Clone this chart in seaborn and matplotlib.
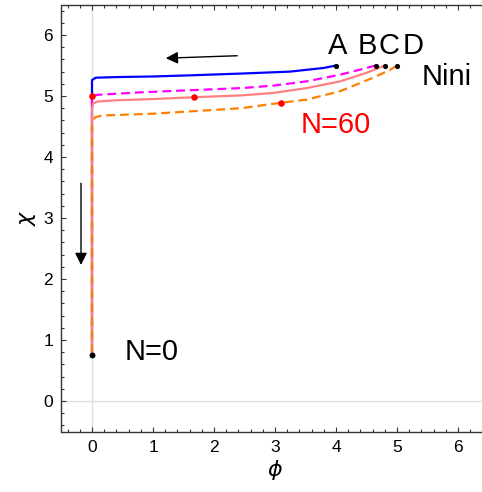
import matplotlib
matplotlib.use("Agg")
import matplotlib.pyplot as plt
from matplotlib.ticker import MultipleLocator
import pandas as pd
import seaborn as sns

# Trajectories in the (phi, chi) plane, from the initial point down to N=0
phi_A = [4.0, 3.8, 3.25, 2.5, 1.65, 1.0, 0.4, 0.06, 0.0, 0.0]
chi_A = [5.5, 5.46, 5.40, 5.37, 5.34, 5.32, 5.31, 5.30, 5.26, 0.75]

phi_B = [4.65, 4.5, 4.07, 3.52, 2.97, 2.46, 1.5, 0.8, 0.1, 0.0, 0.0]
chi_B = [5.5, 5.46, 5.35, 5.24, 5.17, 5.13, 5.09, 5.06, 5.02, 5.0, 0.75]

phi_C = [4.8, 4.5, 4.07, 3.52, 2.97, 2.45, 1.68, 1.0, 0.4, 0.1, 0.02, 0.0, 0.0]
chi_C = [5.5, 5.38, 5.24, 5.13, 5.05, 5.01, 4.98, 4.95, 4.93, 4.91, 4.88, 4.80, 0.75]

phi_D = [5.0, 4.89, 4.61, 4.07, 3.52, 3.1, 2.45, 1.0, 0.16, 0.05, 0.0, 0.0]
chi_D = [5.5, 5.43, 5.30, 5.08, 4.94, 4.89, 4.80, 4.71, 4.68, 4.65, 4.55, 0.75]

# Initial points (Nini) and the points reached at N=60 and N=0
start_labels = ["A", "B", "C", "D"]
start_phi = [4.0, 4.65, 4.8, 5.0]
start_chi = [5.5, 5.5, 5.5, 5.5]
n60_phi = [0.0, 1.68, 3.1]
n60_chi = [5.0, 4.98, 4.89]
end_phi = [0.0]
end_chi = [0.75]

sns.set_style("ticks")
plt.rcParams["font.family"] = ["Liberation Sans", "DejaVu Sans"]
plt.rcParams["mathtext.fontset"] = "dejavusans"
plt.rcParams["text.color"] = "black"
plt.rcParams["axes.labelcolor"] = "black"
plt.rcParams["xtick.color"] = "black"
plt.rcParams["ytick.color"] = "black"

fig = plt.figure(figsize=(4.82, 4.92), dpi=100)
ax = fig.add_axes([61.5 / 482, 60.5 / 492, 427 / 482, 427 / 492])

ax.axhline(0, color="#dddddd", lw=1.0, zorder=0)
ax.axvline(0, color="#dddddd", lw=1.0, zorder=0)

curves = [
    (phi_A, chi_A, "#0000ff", None),
    (phi_B, chi_B, "#ff00ff", (4.0, 2.2)),
    (phi_C, chi_C, "#ff8080", None),
    (phi_D, chi_D, "#ff8000", (4.0, 2.2)),
]
for xs, ys, col, dash in curves:
    df = pd.DataFrame({"phi": xs, "chi": ys})
    sns.lineplot(data=df, x="phi", y="chi", sort=False, estimator=None,
                 color=col, lw=1.6, ax=ax)
    if dash is not None:
        ax.lines[-1].set_dashes(dash)

sns.scatterplot(x=start_phi, y=start_chi, color="black", s=14, linewidth=0,
                ax=ax, zorder=5)
sns.scatterplot(x=end_phi, y=end_chi, color="black", s=18, linewidth=0,
                ax=ax, zorder=5)
sns.scatterplot(x=n60_phi, y=n60_chi, color="#ff0000", s=22, linewidth=0,
                ax=ax, zorder=5)

# Direction of the flow
ax.annotate("", xy=(1.21, 5.62), xytext=(2.38, 5.66),
            arrowprops=dict(arrowstyle="-|>", color="black", lw=1.0,
                            mutation_scale=18, shrinkA=0, shrinkB=0))
ax.annotate("", xy=(-0.18, 2.23), xytext=(-0.18, 3.57),
            arrowprops=dict(arrowstyle="-|>", color="black", lw=1.0,
                            mutation_scale=18, shrinkA=0, shrinkB=0))

lab_x = [4.02, 4.51, 4.87, 5.26]
for lab, lx in zip(start_labels, lab_x):
    ax.text(lx, 5.82, lab, fontsize=21, ha="center", va="center")
ax.text(5.82, 5.31, "Nini", fontsize=21, ha="center", va="center")
ax.text(4.0, 4.52, "N=60", fontsize=21, ha="center", va="center", color="#ff0000")
ax.text(0.98, 0.80, "N=0", fontsize=21, ha="center", va="center")

ax.set_xlim(-0.5, 6.5)
ax.set_ylim(-0.5, 6.5)
ax.xaxis.set_major_locator(MultipleLocator(1))
ax.yaxis.set_major_locator(MultipleLocator(1))
ax.xaxis.set_minor_locator(MultipleLocator(0.2))
ax.yaxis.set_minor_locator(MultipleLocator(0.2))
ax.tick_params(which="both", direction="in", top=True, right=True,
               color="#333333", width=0.8)
ax.tick_params(which="major", length=3.5, labelsize=12.5, pad=6)
ax.tick_params(which="minor", length=2)
for sp in ax.spines.values():
    sp.set_visible(True)
    sp.set_color("#333333")
    sp.set_linewidth(1.0)

ax.set_xlabel(r"$\phi$", fontsize=16, labelpad=2)
ax.set_ylabel(r"$\chi$", fontsize=16, labelpad=4)

fig.savefig("out.png", dpi=100)
